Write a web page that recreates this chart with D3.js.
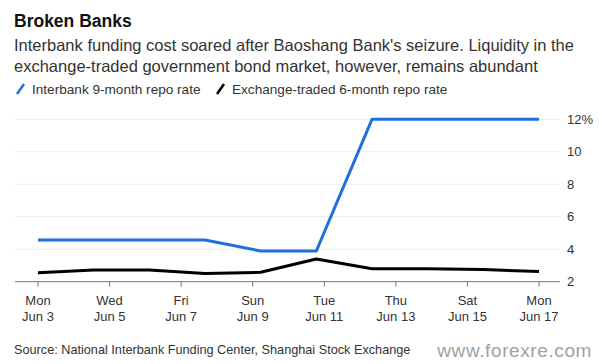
<!DOCTYPE html>
<html>
<head>
<meta charset="utf-8">
<script src="https://cdn.jsdelivr.net/npm/d3@7"></script>
<style>
  body { margin: 0; background: #fff; }
  svg { font-family: "Liberation Sans", Arial, sans-serif; }
</style>
</head>
<body>
<svg width="602" height="364"></svg>
<script>
// trading days, plotted evenly spaced like the original
var days = ["2019-06-03", "2019-06-04", "2019-06-05", "2019-06-06", "2019-06-10",
            "2019-06-11", "2019-06-12", "2019-06-13", "2019-06-14", "2019-06-17"]
var interbank = [4.57, 4.57, 4.57, 4.57, 3.89, 3.89, 12, 12, 12, 12]
var exchange = [2.55, 2.72, 2.72, 2.5, 2.58, 3.4, 2.8, 2.8, 2.75, 2.63]
var yTicks = [2, 4, 6, 8, 10, 12]
var tickDays = ["2019-06-03", "2019-06-05", "2019-06-07", "2019-06-09",
                "2019-06-11", "2019-06-13", "2019-06-15", "2019-06-17"]

var svg = d3.select("svg"),
    width = +svg.attr("width"),
    height = +svg.attr("height");

var parse = d3.timeParse("%Y-%m-%d")

var xIdx = d3.scaleLinear().domain([0, days.length - 1]).range([38, 539])
var xTime = d3.scaleTime()
    .domain([parse(tickDays[0]), parse(tickDays[tickDays.length - 1])])
    .range([38, 539])
var y = d3.scaleLinear().domain([2, 12]).range([281.7, 119.3])

// header
svg.append("text").attr("x", 14).attr("y", 27)
    .style("font-size", "17.5px").style("font-weight", "bold").attr("fill", "#111")
    .text("Broken Banks")
var sub = ["Interbank funding cost soared after Baoshang Bank's seizure. Liquidity in the",
           "exchange-traded government bond market, however, remains abundant"]
svg.selectAll(".sub").data(sub).enter().append("text")
    .attr("class", "sub")
    .attr("x", 14).attr("y", function (d, i) { return 51 + i * 20.5 })
    .style("font-size", "16.5px").attr("fill", "#333")
    .text(function (d) { return d })

// legend
var legend = [{name: "Interbank 9-month repo rate", color: "#1f6fdc", x: 17},
              {name: "Exchange-traded 6-month repo rate", color: "#000", x: 217}]
var lg = svg.selectAll(".legend").data(legend).enter().append("g")
    .attr("class", "legend")
    .attr("transform", function (d) { return "translate(" + d.x + ",89)" })
lg.append("line").attr("x1", 0).attr("y1", 5).attr("x2", 7).attr("y2", -5)
    .attr("stroke", function (d) { return d.color }).attr("stroke-width", 2.5)
lg.append("text").attr("x", 15).attr("y", 4.5)
    .style("font-size", "13.6px").attr("fill", "#333")
    .text(function (d) { return d.name })

// grid + y labels
svg.append("g").selectAll("line").data(yTicks.filter(function (d) { return d > 2 }))
    .enter().append("line")
    .attr("x1", 15).attr("x2", 560)
    .attr("y1", function (d) { return y(d) }).attr("y2", function (d) { return y(d) })
    .attr("stroke", "#ececec").attr("stroke-width", 1)
svg.append("g").selectAll("text").data(yTicks).enter().append("text")
    .attr("x", 567).attr("y", function (d) { return y(d) }).attr("dy", "0.35em")
    .style("font-size", "13px").attr("fill", "#333")
    .text(function (d) { return d == 12 ? d + "%" : d })

// x axis
svg.append("line").attr("x1", 15).attr("x2", 560)
    .attr("y1", y(2)).attr("y2", y(2)).attr("stroke", "#777").attr("stroke-width", 1)
var fmtDay = d3.timeFormat("%a"), fmtDate = d3.timeFormat("%b %-d")
var xt = svg.append("g").selectAll("g").data(tickDays.map(parse)).enter().append("g")
    .attr("transform", function (d) { return "translate(" + xTime(d) + "," + y(2) + ")" })
xt.append("line").attr("y1", 0).attr("y2", 5).attr("stroke", "#777")
xt.append("text").attr("y", 23).attr("text-anchor", "middle")
    .style("font-size", "13px").attr("fill", "#333")
    .text(function (d) { return fmtDay(d) })
xt.append("text").attr("y", 39).attr("text-anchor", "middle")
    .style("font-size", "13px").attr("fill", "#333")
    .text(function (d) { return fmtDate(d) })

// lines
var line = d3.line()
    .x(function (d, i) { return xIdx(i) })
    .y(function (d) { return y(d) })
svg.append("path").datum(exchange).attr("d", line)
    .attr("fill", "none").attr("stroke", "#000").attr("stroke-width", 3)
    .attr("stroke-linejoin", "round")
svg.append("path").datum(interbank).attr("d", line)
    .attr("fill", "none").attr("stroke", "#1f6fdc").attr("stroke-width", 3)
    .attr("stroke-linejoin", "round")

// footer
svg.append("text").attr("x", 14).attr("y", 354)
    .style("font-size", "12.7px").attr("fill", "#333")
    .text("Source: National Interbank Funding Center, Shanghai Stock Exchange")
svg.append("text").attr("x", 592).attr("y", 357).attr("text-anchor", "end")
    .style("font-size", "19px").style("letter-spacing", "0.6px").attr("fill", "#a0a0a0")
    .text("www.forexre.com")
</script>
</body>
</html>
